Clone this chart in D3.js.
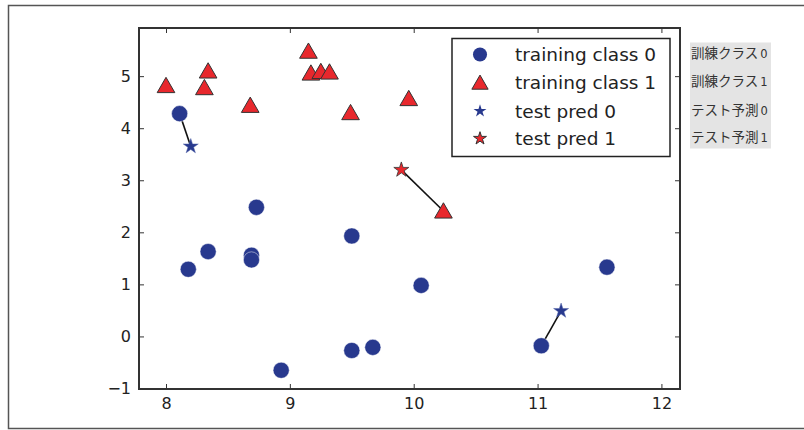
<!DOCTYPE html>
<html><head><meta charset="utf-8">
<script src="https://cdn.jsdelivr.net/npm/d3@7"></script>
<style>body{margin:0;background:#fff}svg{display:block}</style>
</head><body>
<svg id="c" width="804" height="430"></svg>
<script>
// ---- data ----
const class0X = [8.11, 8.18, 8.34, 8.69, 8.69, 8.73, 8.93, 9.50, 9.50, 9.67, 10.06, 11.03, 11.56];
const class0Y = [4.28, 1.29, 1.63, 1.56, 1.47, 2.48, -0.65, 1.93, -0.27, -0.21, 0.98, -0.18, 1.33];
const class1X = [8.00, 8.31, 8.34, 8.68, 9.15, 9.17, 9.25, 9.32, 9.49, 9.96, 10.24];
const class1Y = [4.82, 4.78, 5.10, 4.44, 5.48, 5.06, 5.09, 5.08, 4.30, 4.57, 2.41];
const test0X = [8.20, 11.19];
const test0Y = [3.65, 0.49];
const test1X = [9.90];
const test1Y = [3.20];
// neighbour links: test point -> nearest training point
const linkFromX = [8.20, 9.90, 11.19];
const linkFromY = [3.65, 3.20, 0.49];
const linkToX = [8.11, 10.24, 11.03];
const linkToY = [4.28, 2.41, -0.18];
const xTicks = [8, 9, 10, 11, 12];
const yTicks = [-1, 0, 1, 2, 3, 4, 5];
const legendLabels = ["training class 0", "training class 1", "test pred 0", "test pred 1"];
const jpLabels = ["訓練クラス", "訓練クラス", "テスト予測", "テスト予測"];
const jpDigits = ["0", "1", "0", "1"];

const BLUE = "#28398e", RED = "#e8282d";

const svg = d3.select("#c");
const L = 139, R = 680, T = 28, B = 389;
const x = d3.scaleLinear().domain([7.782, 12.15]).range([L, R]);
const y = d3.scaleLinear().domain([-1.01, 5.925]).range([B, T]);

// outer frame
svg.append("path").attr("d", `M804,5.5H8.5V428.5H804`).attr("fill", "none")
  .attr("stroke", "#555").attr("stroke-width", 1.5);

// axes with inward ticks on all sides
const tickFont = "DejaVu Sans, sans-serif";
const gx = svg.append("g").attr("transform", `translate(0,${B})`)
  .call(d3.axisBottom(x).tickValues(xTicks).tickSizeInner(-5).tickSizeOuter(0).tickPadding(9).tickFormat(d3.format("d")));
const gxt = svg.append("g").attr("transform", `translate(0,${T})`)
  .call(d3.axisTop(x).tickValues(xTicks).tickSizeInner(-5).tickSizeOuter(0).tickFormat(""));
const gy = svg.append("g").attr("transform", `translate(${L},0)`)
  .call(d3.axisLeft(y).tickValues(yTicks).tickSizeInner(-5).tickSizeOuter(0).tickPadding(8)
    .tickFormat(d => d < 0 ? "\u2212" + Math.abs(d) : d));
const gyr = svg.append("g").attr("transform", `translate(${R},0)`)
  .call(d3.axisRight(y).tickValues(yTicks).tickSizeInner(-5).tickSizeOuter(0).tickFormat(""));
[gx, gxt, gy, gyr].forEach(g => {
  g.select(".domain").remove();
  g.selectAll(".tick line").attr("stroke", "#333").attr("stroke-width", 1);
  g.selectAll("text").attr("font-family", tickFont).attr("font-size", 16).attr("fill", "#222");
});
svg.append("rect").attr("x", L).attr("y", T).attr("width", R - L).attr("height", B - T)
  .attr("fill", "none").attr("stroke", "#333").attr("stroke-width", 2);

// links
const plot = svg.append("g");
plot.selectAll("line.link").data(linkFromX).join("line").attr("class", "link")
  .attr("x1", (d, i) => x(linkFromX[i])).attr("y1", (d, i) => y(linkFromY[i]))
  .attr("x2", (d, i) => x(linkToX[i])).attr("y2", (d, i) => y(linkToY[i]))
  .attr("stroke", "#111").attr("stroke-width", 1.6);

const circ = d3.symbol().type(d3.symbolCircle).size(205)();
const tri = d3.symbol().type(d3.symbolTriangle).size(135)();
const star = d3.symbol().type(d3.symbolStar).size(70)();

plot.selectAll("path.c0").data(class0X).join("path").attr("class", "c0")
  .attr("d", circ).attr("transform", (d, i) => `translate(${x(class0X[i])},${y(class0Y[i])})`)
  .attr("fill", BLUE).attr("stroke", "#fff").attr("stroke-opacity", 0.6).attr("stroke-width", 0.8);
plot.selectAll("path.c1").data(class1X).join("path").attr("class", "c1")
  .attr("d", tri).attr("transform", (d, i) => `translate(${x(class1X[i])},${y(class1Y[i]) + 2})`)
  .attr("fill", RED).attr("stroke", "#333").attr("stroke-width", 1);
plot.selectAll("path.t0").data(test0X).join("path").attr("class", "t0")
  .attr("d", star).attr("transform", (d, i) => `translate(${x(test0X[i])},${y(test0Y[i])})`)
  .attr("fill", BLUE).attr("stroke", "#5566aa").attr("stroke-width", 0.5);
plot.selectAll("path.t1").data(test1X).join("path").attr("class", "t1")
  .attr("d", star).attr("transform", (d, i) => `translate(${x(test1X[i])},${y(test1Y[i])})`)
  .attr("fill", RED).attr("stroke", "#333").attr("stroke-width", 0.8);

// legend
const lg = svg.append("g");
lg.append("rect").attr("x", 452).attr("y", 38.5).attr("width", 218).attr("height", 118)
  .attr("fill", "#fff").attr("stroke", "#222").attr("stroke-width", 1.5);
const rowY = [54.5, 82.5, 111, 138.5];
const legSyms = [
  {d: d3.symbol().type(d3.symbolCircle).size(155)(), fill: BLUE, stroke: "none", dy: 0},
  {d: d3.symbol().type(d3.symbolTriangle).size(115)(), fill: RED, stroke: "#333", dy: 2},
  {d: d3.symbol().type(d3.symbolStar).size(52)(), fill: BLUE, stroke: "none", dy: 0},
  {d: d3.symbol().type(d3.symbolStar).size(52)(), fill: RED, stroke: "#333", dy: 0}
];
legendLabels.forEach((lab, i) => {
  lg.append("path").attr("d", legSyms[i].d).attr("transform", `translate(480,${rowY[i] + legSyms[i].dy})`)
    .attr("fill", legSyms[i].fill).attr("stroke", legSyms[i].stroke).attr("stroke-width", 1);
  lg.append("text").attr("x", 515).attr("y", rowY[i]).attr("dy", "0.36em")
    .attr("font-family", tickFont).attr("font-size", 18.5).attr("fill", "#222").text(lab);
});

// japanese side labels
const jg = svg.append("g");
jg.append("rect").attr("x", 690).attr("y", 42.5).attr("width", 81).attr("height", 106).attr("fill", "#e4e4e4");
jpLabels.forEach((lab, i) => {
  const t = jg.append("text").attr("x", 691).attr("y", rowY[i] - 1).attr("dy", "0.36em")
    .attr("font-family", "Noto Sans CJK JP, sans-serif").attr("font-size", 13.5).attr("fill", "#333");
  t.append("tspan").text(lab);
  t.append("tspan").attr("dx", 2).attr("font-family", "DejaVu Sans, sans-serif").attr("font-size", 11.5).text(jpDigits[i]);
});
</script>
</body></html>
